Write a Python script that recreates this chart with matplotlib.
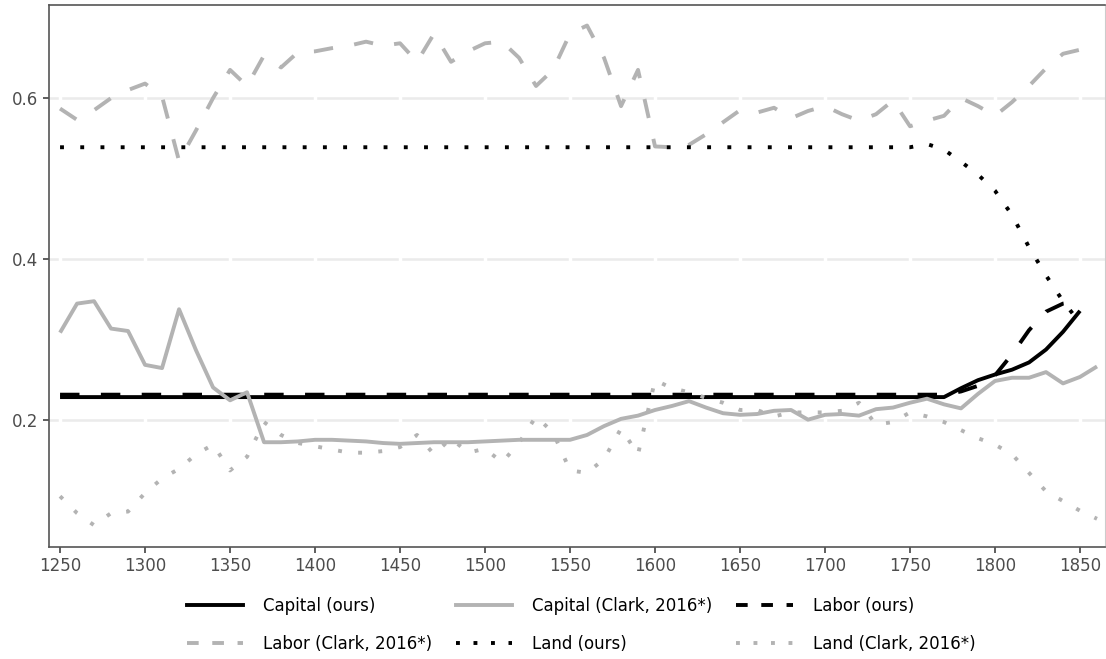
import matplotlib.pyplot as plt
from matplotlib.lines import Line2D
import numpy as np

plt.rcParams['font.family'] = ['DejaVu Sans']

# decadal years
years_ours = np.arange(1250, 1851, 10)
years_clark = np.arange(1250, 1861, 10)

# "ours" shares: flat until the late 18th century
capital_ours = [0.229] * 53 + [0.240, 0.250, 0.257, 0.263, 0.272, 0.288, 0.310, 0.336]
labor_ours = [0.232] * 53 + [0.236, 0.243, 0.256, 0.282, 0.312, 0.335, 0.345, 0.348]
land_ours = [0.539] * 51 + [0.543, 0.536, 0.521, 0.505, 0.485, 0.455, 0.415, 0.380,
                            0.348, 0.321]

capital_clark = [
    0.309, 0.345, 0.348, 0.314, 0.311, 0.269, 0.265, 0.338, 0.287, 0.241,
    0.225, 0.235, 0.173, 0.173, 0.174, 0.176, 0.176, 0.175, 0.174, 0.172,
    0.171, 0.172, 0.173, 0.173, 0.173, 0.174, 0.175, 0.176, 0.176, 0.176,
    0.176, 0.182, 0.193, 0.202, 0.206, 0.213, 0.218, 0.224, 0.216, 0.209,
    0.207, 0.208, 0.212, 0.213, 0.201, 0.207, 0.208, 0.206, 0.214, 0.216,
    0.222, 0.227, 0.220, 0.215, 0.233, 0.249, 0.253, 0.253, 0.260, 0.246,
    0.254, 0.267,
]
labor_clark = [
    0.587, 0.573, 0.585, 0.600, 0.610, 0.618, 0.602, 0.522, 0.560, 0.600,
    0.635, 0.615, 0.653, 0.638, 0.657, 0.658, 0.662, 0.665, 0.670, 0.665,
    0.668, 0.645, 0.680, 0.645, 0.658, 0.668, 0.670, 0.650, 0.615, 0.635,
    0.680, 0.690, 0.650, 0.590, 0.635, 0.540, 0.539, 0.542, 0.555, 0.570,
    0.585, 0.582, 0.588, 0.575, 0.584, 0.590, 0.580, 0.572, 0.580, 0.597,
    0.565, 0.572, 0.578, 0.600, 0.590, 0.578, 0.595, 0.615, 0.637, 0.655,
    0.660, 0.660,
]
land_clark = [
    0.106, 0.085, 0.070, 0.085, 0.087, 0.110, 0.128, 0.140, 0.158, 0.170,
    0.138, 0.155, 0.198, 0.182, 0.172, 0.168, 0.164, 0.160, 0.160, 0.162,
    0.167, 0.182, 0.158, 0.178, 0.160, 0.165, 0.148, 0.172, 0.205, 0.185,
    0.138, 0.135, 0.152, 0.190, 0.158, 0.250, 0.240, 0.235, 0.228, 0.222,
    0.213, 0.213, 0.205, 0.210, 0.210, 0.210, 0.212, 0.222, 0.195, 0.198,
    0.210, 0.205, 0.198, 0.188, 0.178, 0.170, 0.158, 0.135, 0.112, 0.100,
    0.088, 0.078,
]

x_ticks = list(range(1250, 1851, 50))
y_ticks = [0.2, 0.4, 0.6]

GREY = '#B3B3B3'
LW = 2.8
DASH = (0, (5, 5.5))
DOT = (0, (1, 4.2))

fig = plt.figure(figsize=(11.06, 6.59), dpi=100)
ax = fig.add_axes([49 / 1106, 112 / 659, 1056 / 1106, 542 / 659])

# horizontal grid, broken by white vertical lines at the year ticks
for yv in y_ticks:
    ax.axhline(yv, color='#EBEBEB', lw=1.8, zorder=0.5)
for xv in x_ticks:
    ax.axvline(xv, color='white', lw=2.5, zorder=0.6)

ax.plot(years_ours, capital_ours, color='black', lw=LW, solid_capstyle='butt')
ax.plot(years_ours, labor_ours, color='black', lw=LW, ls=DASH)
ax.plot(years_clark, capital_clark, color=GREY, lw=LW, solid_capstyle='butt')
ax.plot(years_clark, labor_clark, color=GREY, lw=LW, ls=DASH)
ax.plot(years_ours, land_ours, color='black', lw=LW, ls=DOT)
ax.plot(years_clark, land_clark, color=GREY, lw=LW, ls=DOT)

ax.set_xlim(1243.5, 1864.7)
ax.set_ylim(0.043, 0.7155)
ax.set_xticks(x_ticks)
ax.set_yticks(y_ticks)
ax.set_yticklabels([f'{v:.1f}' for v in y_ticks])
ax.tick_params(labelsize=12, labelcolor='#4D4D4D', color='#333333',
               length=4.5, width=1.1, pad=3)

for side in ['left', 'bottom', 'top']:
    ax.spines[side].set_color('#555555')
    ax.spines[side].set_linewidth(1.2)
ax.spines['right'].set_color('#CCCCCC')

# legend filled row by row like the original (matplotlib fills by column)
h = {
    'Capital (ours)': Line2D([], [], color='black', lw=LW),
    'Capital (Clark, 2016*)': Line2D([], [], color=GREY, lw=LW),
    'Labor (ours)': Line2D([], [], color='black', lw=LW, ls=(0, (3, 3.5))),
    'Labor (Clark, 2016*)': Line2D([], [], color=GREY, lw=LW, ls=(0, (3, 3.5))),
    'Land (ours)': Line2D([], [], color='black', lw=LW, ls=(0, (1, 3.5))),
    'Land (Clark, 2016*)': Line2D([], [], color=GREY, lw=LW, ls=(0, (1, 3.5))),
}
order = ['Capital (ours)', 'Labor (Clark, 2016*)', 'Capital (Clark, 2016*)',
         'Land (ours)', 'Labor (ours)', 'Land (Clark, 2016*)']
fig.legend([h[k] for k in order], order, ncol=3, frameon=False, fontsize=12,
           loc='center', bbox_to_anchor=(581 / 1106, 1 - 625 / 659),
           handlelength=3.4, handletextpad=1.2, columnspacing=1.4,
           labelspacing=1.2, labelcolor='black')

plt.savefig('out.png', dpi=100)
